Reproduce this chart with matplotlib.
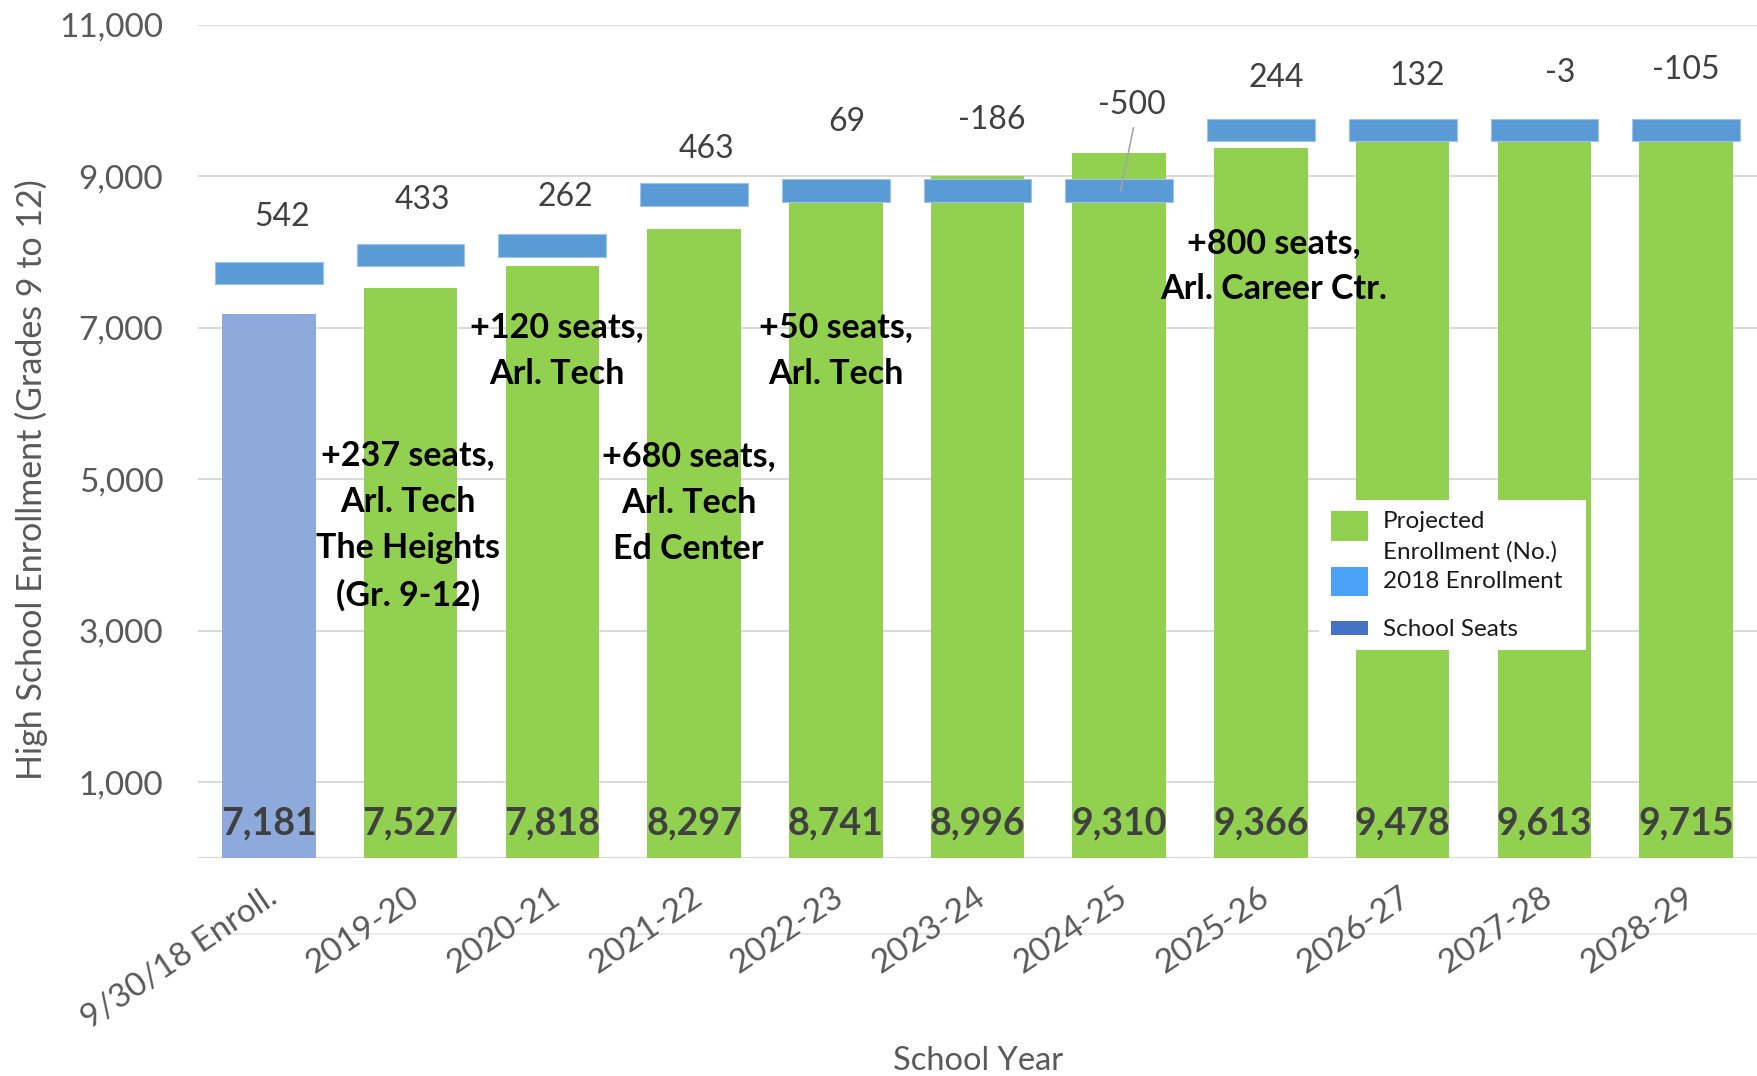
import matplotlib.pyplot as plt
import matplotlib.patches as mpatches
from matplotlib.ticker import FuncFormatter
from matplotlib.transforms import ScaledTranslation
import numpy as np

plt.rcParams['font.family'] = ['Lato', 'DejaVu Sans']

# --- data -------------------------------------------------------------
years = ['9/30/18 Enroll.', '2019-20', '2020-21', '2021-22', '2022-23', '2023-24',
         '2024-25', '2025-26', '2026-27', '2027-28', '2028-29']
enrollment = [7181, 7527, 7818, 8297, 8741, 8996, 9310, 9366, 9478, 9613, 9715]
seats = [7723, 7960, 8080, 8760, 8810, 8810, 8810, 9610, 9610, 9610, 9610]

notes = ['+237 seats,\nArl. Tech\nThe Heights\n(Gr. 9-12)',
         '+120 seats,\nArl. Tech',
         '+680 seats,\nArl. Tech\nEd Center',
         '+50 seats,\nArl. Tech',
         '+800 seats,\nArl. Career Ctr.']
note_pos = [(0.98, 4390), (2.03, 6700), (2.96, 4690), (4.0, 6700), (7.09, 7810)]

# label placement above each seat marker (data units)
gap_offset = [740, 730, 640, 600, 900, 925, 1135, 690, 715, 755, 785]
gap_dx = [0.09, 0.08, 0.09, 0.09, 0.08, 0.1, 0.09, 0.11, 0.1, 0.11, 0.0]

GREEN = '#92D050'
BASE_BLUE = '#8EA9DB'
SEAT_BLUE = '#5B9BD5'
GRID = '#D9D9D9'

W, H = 1757, 1076
fig = plt.figure(figsize=(W / 100, H / 100), dpi=100)
ax = fig.add_axes([0.1127, 0.2026, 0.8873, 0.7745])

x = np.arange(len(years))
enrollment = np.array(enrollment)
seats = np.array(seats)
gap = seats - enrollment

colors = [BASE_BLUE] + [GREEN] * (len(years) - 1)
ax.bar(x, enrollment, width=0.66, color=colors, zorder=2)

# seat markers as short thick dashes
mark_h = 300
ax.bar(x, mark_h, bottom=seats - mark_h / 2, width=0.76, color=SEAT_BLUE,
       edgecolor='#9DC3E6', linewidth=0.8, zorder=3)

# enrollment values inside the bars
for xi, v in zip(x, enrollment):
    ax.text(xi, 450, f'{v:,}', ha='center', va='center', fontsize=27,
            fontweight='bold', color='#404040', zorder=5)

# seat surplus / deficit labels
for xi, s, g, off, dx in zip(x, seats, gap, gap_offset, gap_dx):
    ax.text(xi + dx, s + off, f'{g}', ha='center', va='center', fontsize=23,
            color='#404040', zorder=5)

# leader line for the -500 label
i = 6
ax.plot([i + 0.10, i + 0.01], [seats[i] + 826, seats[i]], color='#A6A6A6',
        lw=1.2, zorder=4)

for txt, (nx, ny) in zip(notes, note_pos):
    ax.text(nx, ny, txt, ha='center', va='center', fontsize=24.5,
            fontweight='bold', color='black', linespacing=1.55, zorder=6)

# axes styling
ax.set_xlim(-0.5, len(years) - 0.5)
ax.set_ylim(0, 11000)
ax.set_yticks(range(1000, 11001, 2000))
ax.yaxis.set_major_formatter(FuncFormatter(lambda v, p: f'{int(v):,}'))
ax.yaxis.grid(True, color=GRID, lw=1.4)
ax.set_axisbelow(True)
ax.axhline(0, color=GRID, lw=1.6, zorder=1)
ax.axhline(-1000, color='#EAEAEA', lw=1.4, zorder=0, clip_on=False)
for sp in ax.spines.values():
    sp.set_visible(False)

ax.tick_params(axis='y', length=0, pad=25, labelsize=24, labelcolor='#595959')
ax.tick_params(axis='x', length=0, pad=26, labelsize=24, labelcolor='#595959')
ax.set_xticks(x)
ax.set_xticklabels(years, rotation=34, ha='right', va='center',
                   rotation_mode='anchor')
shift = ScaledTranslation(0.05, 0, fig.dpi_scale_trans)
for lab in ax.get_xticklabels():
    lab.set_transform(lab.get_transform() + shift)

fig.text(31 / W, 1 - 480 / H, 'High School Enrollment (Grades 9 to 12)',
         rotation=90, ha='center', va='center', fontsize=24.5, color='#595959')
fig.text(978 / W, 1 - 1061 / H, 'School Year', ha='center', va='center',
         fontsize=23.5, color='#595959')

# legend, laid out in figure pixels
def px_rect(x0, y0, x1, y1, color, z):
    r = mpatches.Rectangle((x0 / W, 1 - y1 / H), (x1 - x0) / W, (y1 - y0) / H,
                           transform=fig.transFigure, facecolor=color,
                           edgecolor='none', zorder=z)
    fig.patches.append(r)

px_rect(1319, 500, 1586, 650, 'white', 10)
legend_items = [('#92D050', (511, 541), ['Projected', 'Enrollment (No.)'], [521, 552]),
                ('#4BA3F7', (567, 596), ['2018 Enrollment'], [582]),
                ('#4472C4', (621, 635), ['School Seats'], [630])]
for col, (y0, y1), lines, ys in legend_items:
    px_rect(1331, y0, 1368, y1, col, 11)
    for ln, yy in zip(lines, ys):
        fig.text(1383 / W, 1 - yy / H, ln, ha='left', va='center',
                 fontsize=17.5, color='#1a1a1a', zorder=12)

fig.savefig('out.png', dpi=100, facecolor='white')
